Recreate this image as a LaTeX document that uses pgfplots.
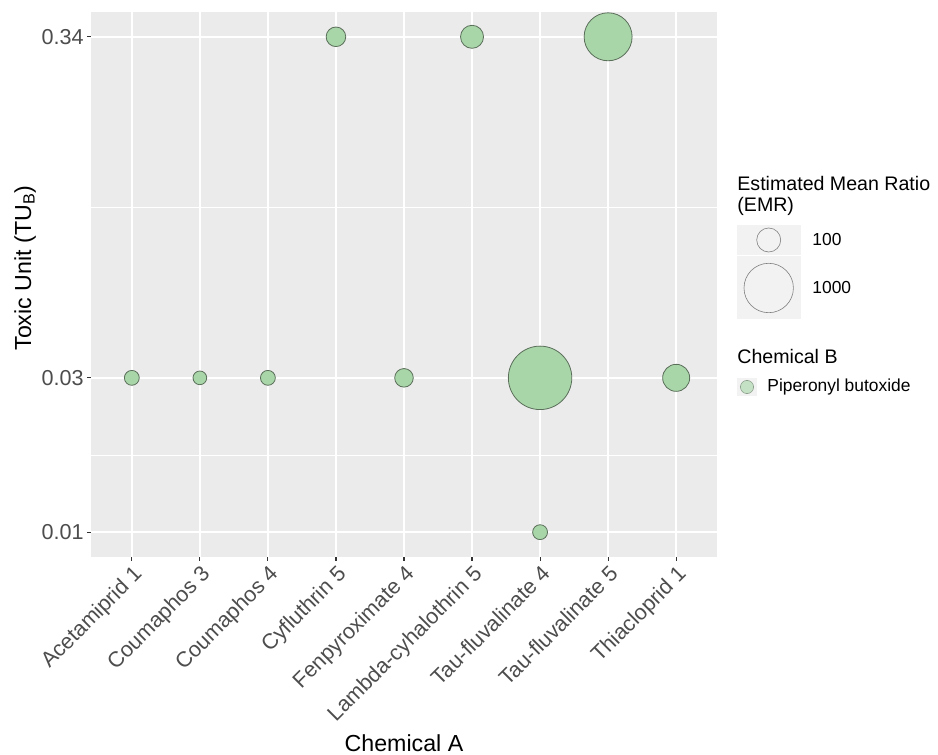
\documentclass[border=0pt]{standalone}
\usepackage{pgfplots}
\pgfplotsset{compat=1.18}
\usepackage{fontspec}
\setmainfont{Liberation Sans}
\definecolor{panelbg}{RGB}{235,235,235}
\definecolor{keybg}{RGB}{242,242,242}
\definecolor{ptfill}{RGB}{168,214,168}
\definecolor{ptdraw}{RGB}{90,110,90}
\definecolor{tickcol}{RGB}{51,51,51}
\definecolor{labcol}{RGB}{77,77,77}
\begin{document}
\begin{tikzpicture}[x=1pt,y=1pt]
\path[use as bounding box] (-45.5,-99) rectangle (423.5,278.5);
\begin{axis}[
  at={(0,0)}, anchor=south west,
  scale only axis, width=313pt, height=272.5pt,
  xmin=0.4, xmax=9.6,
  ymode=log, ymin=0.008380, ymax=0.4056,
  axis background/.style={fill=panelbg},
  axis line style={draw=none},
  xtick={1,2,3,4,5,6,7,8,9},
  xticklabels={Acetamiprid 1,Coumaphos 3,Coumaphos 4,Cyfluthrin 5,Fenpyroximate 4,Lambda-cyhalothrin 5,Tau-fluvalinate 4,Tau-fluvalinate 5,Thiacloprid 1},
  ytick={0.01,0.03,0.34}, yticklabels={0.01,0.03,0.34},
  minor ytick={0.101,0.01732},
  grid=both,
  major grid style={white, line width=0.75pt},
  minor grid style={white, line width=0.4pt},
  tick align=outside, major tick length=2pt, minor tick length=0pt,
  xtick pos=bottom, ytick pos=left,
  tick style={tickcol, line width=0.55pt},
  /pgf/number format/assume math mode=true,
  ticklabel style={font=\fontsize{10.8}{13}\selectfont, text=labcol},
  xticklabel style={rotate=45, anchor=north east, inner sep=1pt},
  yticklabel style={inner sep=1.5pt},
]
\addplot[scatter, only marks, mark=*,
  scatter/use mapped color={draw=ptdraw, fill=ptfill},
  visualization depends on={3.065+0.2935*sqrt(\thisrow{emr}) \as \perpointmarksize},
  scatter/@pre marker code/.append style={/tikz/mark size=\perpointmarksize, /tikz/fill opacity=0.6, /tikz/draw opacity=0.6, /tikz/line width=0.3pt}]
table {
x y emr
1 0.03 5
2 0.03 1.5
3 0.03 5
4 0.34 39
5 0.03 29
6 0.34 84
7 0.03 1900
7 0.01 5
8 0.34 926
9 0.03 158
};
\end{axis}
% axis titles
\node[rotate=90, anchor=center, font=\fontsize{11.6}{14}\selectfont] at (-33,144.5) {Toxic Unit (TU\textsubscript{B})};
\node[anchor=base, font=\fontsize{11.6}{14}\selectfont] at (156.5,-97.5) {Chemical A};
% legend 1
\node[anchor=base west, inner sep=0pt, font=\fontsize{9.8}{12}\selectfont] at (323,183) {Estimated Mean Ratio};
\node[anchor=base west, inner sep=0pt, font=\fontsize{9.8}{12}\selectfont] at (323,172.5) {(EMR)};
\fill[keybg] (323,150.8) rectangle (355,166);
\fill[keybg] (323,119) rectangle (355,150.3);
\draw[black!50, line width=0.3pt] (338.85,158.5) circle (6);
\draw[black!50, line width=0.3pt] (338.85,134.5) circle (12.35);
\node[anchor=west, inner sep=0pt, font=\fontsize{8.7}{10}\selectfont] at (360.5,158.5) {100};
\node[anchor=west, inner sep=0pt, font=\fontsize{8.7}{10}\selectfont] at (360.5,134.5) {1000};
% legend 2
\node[anchor=base west, inner sep=0pt, font=\fontsize{9.8}{12}\selectfont] at (323,96.5) {Chemical B};
\fill[keybg] (323,80.5) rectangle (333,89.5);
\draw[fill=ptfill, fill opacity=0.6, draw=ptdraw, draw opacity=0.6, line width=0.3pt] (328,85) circle (3.3);
\node[anchor=west, inner sep=0pt, font=\fontsize{8.7}{10}\selectfont] at (338,85) {Piperonyl butoxide};
\end{tikzpicture}
\end{document}
